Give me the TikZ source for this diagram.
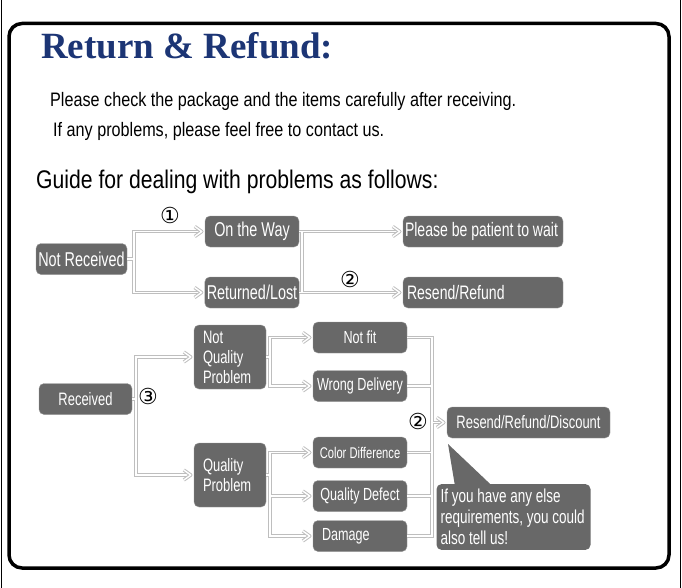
\documentclass[tikz,border=0pt]{standalone}
\usepackage{fontspec}
\setmainfont{Liberation Sans}
\newfontfamily\headfont[FakeStretch=1.0]{Liberation Serif}
\newfontfamily\bodyfont[FakeStretch=0.83]{Liberation Sans}
\newfontfamily\boxfont[FakeStretch=0.72]{Liberation Sans}
\newfontfamily\circfont{DejaVu Sans}
\usetikzlibrary{arrows.meta, positioning}
\definecolor{navy}{HTML}{1C3575}
\definecolor{boxgray}{HTML}{686868}
\definecolor{linegray}{HTML}{BEBEBE}

\begin{document}
\begin{tikzpicture}[x=1pt,y=-1pt]
	\tikzstyle{box}=[draw=black!40, fill=boxgray, text=white, rounded corners=5pt, minimum height=31pt, inner sep=2pt, font=\boxfont\fontsize{20}{22}\selectfont]
	\tikzstyle{smallbox}=[box, minimum width=94pt, font=\boxfont\fontsize{17.5}{19}\selectfont]
	\tikzstyle{tallbox}=[box, minimum width=72pt, minimum height=64pt, text width=54pt, inner xsep=9pt, align=flush left, font=\boxfont\fontsize{18}{20}\selectfont]
	\tikzstyle{link}=[draw=linegray, double=white, double distance=1.4pt, line width=1pt]
	\tikzstyle{numlabel}=[inner sep=0pt, font=\circfont\fontsize{22}{22}\selectfont]
	\tikzstyle{textline}=[inner sep=0pt, anchor=base west]

    \useasboundingbox (0,0) rectangle (682,588);
    % frame
    \draw[line width=1.2pt] (1.5,0) -- (1.5,588) (680.5,0) -- (680.5,588);
    \draw[line width=3.5pt, rounded corners=13pt] (9,23.5) rectangle (669,568);

    % heading
    \node[textline, text=navy, font=\headfont\bfseries\fontsize{37}{40}\selectfont] (title) at (41,59) {Return \& Refund:};
    \node[textline, font=\bodyfont\fontsize{19.5}{22}\selectfont] (intro) at (50,107) {Please check the package and the items carefully after receiving.};
    \node[textline, font=\bodyfont\fontsize{19.5}{22}\selectfont] (contact) at (53,137) {If any problems, please feel free to contact us.};
    \node[textline, font=\bodyfont\fontsize{25.5}{28}\selectfont] (guide) at (36,189) {Guide for dealing with problems as follows:};

    % not received
    \node [box, minimum width=91pt] (nrec) at (81.5,259) {Not Received};
    \node [box, minimum width=94pt] (way) at (252,231.5) {On the Way};
    \node [box, minimum width=94pt, below of=way, node distance=61pt] (lost) {Returned/Lost};
    \node [box, text width=156pt, inner xsep=2pt, align=flush left, right of=way, node distance=231pt, font=\boxfont\fontsize{19.5}{21}\selectfont] (wait) {Please be patient to wait};
    \node [box, text width=152pt, inner xsep=4pt, align=flush left, right of=lost, node distance=231pt, font=\boxfont\fontsize{19.5}{21}\selectfont] (resend) {Resend/Refund};

    % received
    \node [box, minimum width=93pt, font=\boxfont\fontsize{18}{20}\selectfont] (rec) at (85.5,399) {Received};
    \node [tallbox] (nqp) at (230,357) {Not\\Quality\\Problem};
    \node [tallbox, below of=nqp, node distance=118pt] (qp) {Quality\\Problem};
    \node [smallbox] (notfit) at (360,337.5) {Not fit};
    \node [smallbox, below of=notfit, node distance=48.5pt] (wrong) {Wrong Delivery};
    \node [smallbox, font=\boxfont\fontsize{15.5}{17}\selectfont] (colordiff) at (360,452.5) {Color Difference};
    \node [smallbox, below of=colordiff, node distance=43.5pt] (defect) {Quality Defect};
    \node [smallbox, text width=84pt, inner xsep=5pt, align=flush left, below of=defect, node distance=40pt] (damage) {\hspace{4pt}Damage};
    \node [box, minimum width=163pt, font=\boxfont\fontsize{18}{20}\selectfont] (rrd) at (528.5,422.5) {Resend/Refund/Discount};
    \node [box, draw=none, text width=146pt, inner xsep=4pt, inner ysep=5pt, align=flush left, font=\boxfont\fontsize{18.75}{21}\selectfont] (bubble) at (513.5,517) {If you have any else\\requirements, you could\\also tell us!};
    \coordinate (tip) at (448,444);
    \fill[boxgray] (tip) -- ([shift={(19pt,-4pt)}]bubble.north west) -- ([shift={(58pt,-4pt)}]bubble.north west) -- cycle;

    % bars of the connectors
    \coordinate (bara) at (134,0);
    \coordinate (barb) at (302,0);
    \coordinate (barc) at (136,0);
    \coordinate (bard) at (270,0);
    \coordinate (bare) at (432,0);

    % connectors: grey pass, then white pass
    \foreach \wd/\col in {3.4pt/linegray, 1.4pt/white}
      \draw[line width=\wd, draw=\col]
        (nrec.east) -- (bara |- nrec.east)
        ([xshift=-6pt]way.west) -- (bara |- way.west) -- (bara |- lost.west) -- ([xshift=-6pt]lost.west)
        (way.east) -- ([xshift=-6pt]wait.west)
        (lost.east) -- ([xshift=-6pt]resend.west)
        (barb |- way.east) -- (barb |- lost.east)
        (rec.east) -- (barc |- rec.east)
        ([xshift=-6pt]nqp.west) -- (barc |- nqp.west) -- (barc |- qp.west) -- ([xshift=-6pt]qp.west)
        (nqp.east) -- (bard |- nqp.east)
        ([xshift=-6pt]notfit.west) -- (bard |- notfit.west) -- (bard |- wrong.west) -- ([xshift=-6pt]wrong.west)
        (qp.east) -- (bard |- qp.east)
        ([xshift=-6pt]colordiff.west) -- (bard |- colordiff.west) -- (bard |- damage.west) -- ([xshift=-6pt]damage.west)
        ([xshift=-6pt]defect.west) -- (bard |- defect.west)
        (notfit.east) -- (bare |- notfit.east) -- (bare |- damage.east) -- (damage.east)
        (wrong.east) -- (bare |- wrong.east)
        (colordiff.east) -- (bare |- colordiff.east)
        (defect.east) -- (bare |- defect.east)
        (bare |- rrd.west) -- ([xshift=-6pt]rrd.west);
    % open chevrons in front of the boxes
    \foreach \n in {way, lost, wait, resend, nqp, qp, notfit, wrong, colordiff, defect, damage, rrd}
      \draw[link, line join=round] ([shift={(-10pt,5pt)}]\n.west) -- ([xshift=-3pt]\n.west) -- ([shift={(-10pt,-5pt)}]\n.west);

    \node[numlabel] (one) at (170,215) {①};
    \node[numlabel] (twoa) at (350,279) {②};
    \node[numlabel] (three) at (148,396) {③};
    \node[numlabel] (twob) at (418,421) {②};
\end{tikzpicture}
\end{document}
